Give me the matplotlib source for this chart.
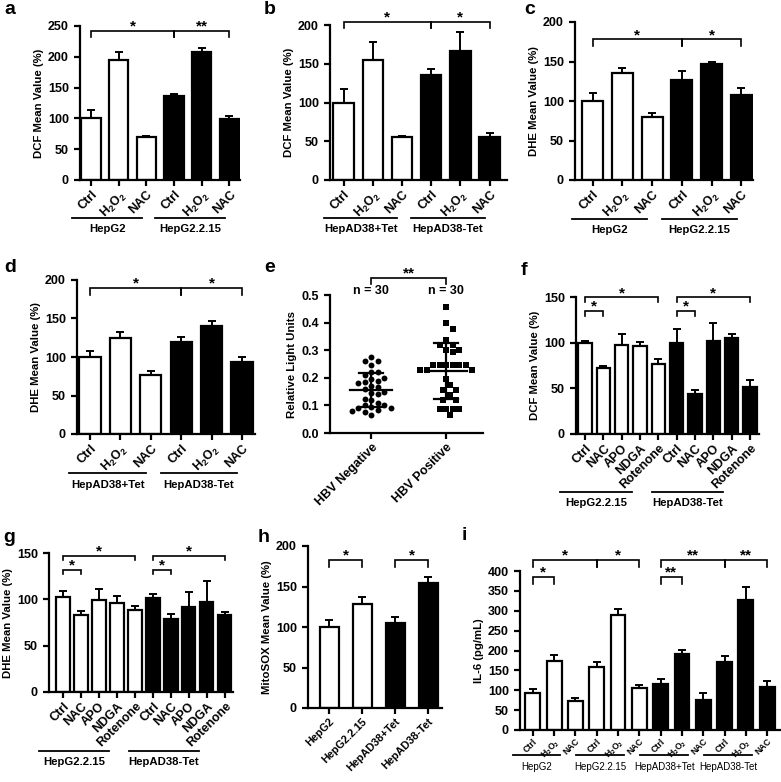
import matplotlib
matplotlib.use('Agg')
import matplotlib.pyplot as plt
import numpy as np

plt.rcParams.update({
    'font.family': ['Liberation Sans', 'DejaVu Sans'],
    'font.weight': 'bold',
    'axes.labelweight': 'bold',
    'mathtext.fontset': 'custom',
    'mathtext.rm': 'Liberation Sans:bold',
    'mathtext.bf': 'Liberation Sans:bold',
    'mathtext.it': 'Liberation Sans:bold',
    'mathtext.default': 'rm',
    'axes.linewidth': 1.6,
})

H2O2 = r'H$_2$O$_2$'

# ---------------- data ----------------
a_labels = ['Ctrl', H2O2, 'NAC', 'Ctrl', H2O2, 'NAC']
a_vals = [100, 195, 70, 137, 208, 99]
a_err = [14, 12, 1, 3, 7, 5]
a_groups = ['HepG2', 'HepG2.2.15']

b_labels = ['Ctrl', H2O2, 'NAC', 'Ctrl', H2O2, 'NAC']
b_vals = [100, 155, 55, 136, 166, 56]
b_err = [18, 23, 2, 7, 25, 5]
b_groups = ['HepAD38+Tet', 'HepAD38-Tet']

c_labels = ['Ctrl', H2O2, 'NAC', 'Ctrl', H2O2, 'NAC']
c_vals = [100, 136, 80, 127, 147, 108]
c_err = [10, 6, 5, 11, 3, 9]
c_groups = ['HepG2', 'HepG2.2.15']

d_labels = ['Ctrl', H2O2, 'NAC', 'Ctrl', H2O2, 'NAC']
d_vals = [100, 125, 77, 120, 140, 94]
d_err = [8, 7, 5, 6, 7, 6]
d_groups = ['HepAD38+Tet', 'HepAD38-Tet']

e_categories = ['HBV Negative', 'HBV Positive']
e_negative = [0.275, 0.26, 0.26, 0.245, 0.22, 0.22, 0.21, 0.20, 0.195, 0.19,
              0.185, 0.18, 0.17, 0.165, 0.16, 0.15, 0.145, 0.14, 0.125, 0.12,
              0.11, 0.10, 0.10, 0.095, 0.09, 0.09, 0.085, 0.08, 0.075, 0.065]
e_positive = [0.458, 0.397, 0.377, 0.337, 0.32, 0.318, 0.30, 0.30, 0.295,
              0.248, 0.248, 0.248, 0.248, 0.248, 0.248, 0.228, 0.228, 0.228,
              0.197, 0.175, 0.155, 0.155, 0.137, 0.12, 0.12,
              0.088, 0.088, 0.088, 0.088, 0.065]
e_n = ['n = 30', 'n = 30']

f_labels = ['Ctrl', 'NAC', 'APO', 'NDGA', 'Rotenone'] * 2
f_vals = [100, 72, 97, 96, 77, 100, 44, 102, 105, 52]
f_err = [2, 3, 12, 5, 5, 15, 4, 20, 4, 7]
f_groups = ['HepG2.2.15', 'HepAD38-Tet']

g_labels = ['Ctrl', 'NAC', 'APO', 'NDGA', 'Rotenone'] * 2
g_vals = [102, 83, 99, 96, 88, 101, 79, 92, 97, 83]
g_err = [7, 4, 12, 8, 5, 5, 5, 16, 23, 3]
g_groups = ['HepG2.2.15', 'HepAD38-Tet']

h_labels = ['HepG2', 'HepG2.2.15', 'HepAD38+Tet', 'HepAD38-Tet']
h_vals = [100, 129, 105, 154]
h_err = [9, 8, 7, 8]

i_labels = ['Ctrl', H2O2, 'NAC'] * 4
i_vals = [94, 173, 74, 158, 289, 106, 115, 192, 76, 171, 328, 107]
i_err = [8, 15, 7, 13, 16, 6, 13, 9, 17, 15, 33, 17]
i_groups = ['HepG2', 'HepG2.2.15', 'HepAD38+Tet', 'HepAD38-Tet']

# ---------------- layout helpers ----------------
W, H = 781, 782
fig = plt.figure(figsize=(W / 100, H / 100), dpi=100)

TICK_FS = 9
LABEL_FS = 8.2
STAR_FS = 11


def add_ax(x0, y0, x1, y1, yfs=TICK_FS):
    ax = fig.add_axes([x0 / W, 1 - y1 / H, (x1 - x0) / W, (y1 - y0) / H])
    ax.spines['top'].set_visible(False)
    ax.spines['right'].set_visible(False)
    ax.tick_params(direction='out', length=4, width=1.6, labelsize=yfs, pad=2)
    ax.tick_params(axis='y', pad=4)
    return ax, (y1 - y0)


def panel_letter(x, y, s):
    fig.text(x / W, 1 - y / H, s, fontsize=14, fontweight='bold', ha='left', va='center')


def bracket(ax, x1, x2, y, h, txt, fs=STAR_FS):
    ax.plot([x1, x1, x2, x2], [y - h, y, y, y - h], color='k', lw=1.2, clip_on=False,
            solid_joinstyle='miter')
    ax.text((x1 + x2) / 2, y, txt, ha='center', va='baseline', fontsize=fs,
            fontweight='bold', clip_on=False)


def group_lines(ax, hpx, groups, size, line_px, text_px, start_off, end_off, fs=LABEL_FS, fw='bold'):
    tr = ax.get_xaxis_transform()
    for gi, name in enumerate(groups):
        first = gi * size
        last = first + size - 1
        xs, xe = first + start_off, last + end_off
        ax.plot([xs, xe], [-line_px / hpx] * 2, color='k', lw=1.3, transform=tr, clip_on=False)
        ax.text((xs + xe) / 2, -text_px / hpx, name, transform=tr, ha='center', va='center',
                fontsize=fs, fontweight=fw)


def bar_panel(ax, labels, vals, errs, ylim, yticks, ylabel, xlim, width=0.7, xfs=TICK_FS, xpad=2):
    n = len(vals)
    x = np.arange(n)
    colors = ['white'] * (n // 2) + ['black'] * (n - n // 2)
    ax.errorbar(x, vals, yerr=[np.zeros(n), errs], fmt='none', ecolor='k',
                elinewidth=1.4, capsize=3.2, capthick=1.4, zorder=1)
    ax.bar(x, vals, width=width, color=colors, edgecolor='k', linewidth=1.6, zorder=2)
    ax.set_xlim(*xlim)
    ax.set_ylim(*ylim)
    ax.set_yticks(yticks)
    ax.set_xticks(x)
    ax.set_xticklabels(labels, rotation=45, ha='right', rotation_mode='anchor',
                       fontsize=xfs, fontweight='bold')
    ax.tick_params(axis='x', pad=xpad)
    ax.set_ylabel(ylabel, fontsize=LABEL_FS, fontweight='bold', labelpad=3)


# ---------------- panel a ----------------
ax, hp = add_ax(80, 26, 240, 180)
bar_panel(ax, a_labels, a_vals, a_err, (0, 250), range(0, 251, 50), 'DCF Mean Value (%)', (-0.4, 5.38))
bracket(ax, 0, 3, 242, 10, '*')
bracket(ax, 3, 5, 242, 10, '**')
group_lines(ax, hp, a_groups, 3, 38, 49, -0.68, -0.16)
panel_letter(4, 10, 'a')

# ---------------- panel b ----------------
ax, hp = add_ax(330, 25, 507, 180)
bar_panel(ax, b_labels, b_vals, b_err, (0, 200), range(0, 201, 50), 'DCF Mean Value (%)', (-0.47, 5.6))
bracket(ax, 0, 3, 204, 8, '*')
bracket(ax, 3, 5, 204, 8, '*')
group_lines(ax, hp, b_groups, 3, 38, 49, -0.68, -0.16)
panel_letter(264, 10, 'b')

# ---------------- panel c ----------------
ax, hp = add_ax(575, 22, 753, 180)
bar_panel(ax, c_labels, c_vals, c_err, (0, 200), range(0, 201, 50), 'DHE Mean Value (%)', (-0.59, 5.39))
bracket(ax, 0, 3, 178, 8, '*')
bracket(ax, 3, 5, 178, 8, '*')
group_lines(ax, hp, c_groups, 3, 39, 50, -0.68, -0.16)
panel_letter(524, 10, 'c')

# ---------------- panel d ----------------
ax, hp = add_ax(77, 280, 255, 434)
bar_panel(ax, d_labels, d_vals, d_err, (0, 200), range(0, 201, 50), 'DHE Mean Value (%)', (-0.43, 5.43))
bracket(ax, 0, 3, 190, 10, '*')
bracket(ax, 3, 5, 190, 10, '*')
group_lines(ax, hp, d_groups, 3, 39, 51, -0.68, -0.16)
panel_letter(4, 267, 'd')

# ---------------- panel e ----------------
ax, hp = add_ax(330, 295, 483, 433)
xlim_e = (-0.55, 1.49)
ylim_e = (0, 0.5)
ax.set_xlim(*xlim_e)
ax.set_ylim(*ylim_e)
sx = (483 - 330) / (xlim_e[1] - xlim_e[0])
sy = (433 - 295) / (ylim_e[1] - ylim_e[0])


def swarm(vals, diam):
    vals = np.asarray(vals)
    placed = []
    off = np.zeros(len(vals))
    for i in np.argsort(vals)[::-1]:
        yp = vals[i] * sy
        for k in range(60):
            cands = [0.0] if k == 0 else [k * diam * 0.5, -k * diam * 0.5]
            done = False
            for xp in cands:
                if all((xp - px) ** 2 + (yp - py) ** 2 >= diam ** 2 for px, py in placed):
                    placed.append((xp, yp))
                    off[i] = xp / sx
                    done = True
                    break
            if done:
                break
    return off


for ci, (vals, mk) in enumerate([(e_negative, 'o'), (e_positive, 's')]):
    off = swarm(vals, 6.5)
    ax.scatter(ci + off, vals, marker=mk, s=18, color='black', zorder=2, linewidths=0)
    m = np.mean(vals)
    sd = np.std(vals, ddof=1)
    ax.plot([ci - 0.28, ci + 0.28], [m, m], color='k', lw=1.6, zorder=3)
    ax.plot([ci - 0.16, ci + 0.16], [m + sd, m + sd], color='k', lw=1.6, zorder=3)
    ax.plot([ci - 0.16, ci + 0.16], [m - sd, m - sd], color='k', lw=1.6, zorder=3)
    ax.plot([ci, ci], [m - sd, m + sd], color='k', lw=1.6, zorder=3)
    ax.text(ci, 0.515, e_n[ci], ha='center', va='center', fontsize=9, fontweight='bold',
            clip_on=False)
ax.set_yticks(np.arange(0, 0.51, 0.1))
ax.set_yticklabels([f'{v:.1f}' for v in np.arange(0, 0.51, 0.1)])
ax.set_xticks([0, 1])
ax.set_xticklabels(e_categories, rotation=45, ha='right', rotation_mode='anchor',
                   fontsize=TICK_FS, fontweight='bold')
ax.set_ylabel('Relative Light Units', fontsize=LABEL_FS, fontweight='bold', labelpad=3)
bracket(ax, 0, 1, 0.563, 0.024, '**')
panel_letter(264, 268, 'e')

# ---------------- panel f ----------------
ax, hp = add_ax(576, 297, 759, 434)
bar_panel(ax, f_labels, f_vals, f_err, (0, 150), range(0, 151, 50), 'DCF Mean Value (%)', (-0.5, 9.5), width=0.73)
bracket(ax, 0, 4, 150, 6, '*')
bracket(ax, 0, 1, 135, 6, '*')
bracket(ax, 5, 9, 150, 6, '*')
bracket(ax, 5, 6, 135, 6, '*')
group_lines(ax, hp, f_groups, 5, 58, 69, -1.35, -1.45)
panel_letter(521, 270, 'f')

# ---------------- panel g ----------------
ax, hp = add_ax(49, 553, 233, 692)
bar_panel(ax, g_labels, g_vals, g_err, (0, 150), range(0, 151, 50), 'DHE Mean Value (%)', (-0.78, 9.45), width=0.73)
bracket(ax, 0, 4, 147, 5, '*')
bracket(ax, 0, 1, 132, 5, '*')
bracket(ax, 5, 9, 147, 5, '*')
bracket(ax, 5, 6, 132, 5, '*')
group_lines(ax, hp, g_groups, 5, 59, 70, -1.35, -1.45)
panel_letter(3, 537, 'g')

# ---------------- panel h ----------------
ax, hp = add_ax(308, 546, 442, 708)
bar_panel(ax, h_labels, h_vals, h_err, (0, 200), range(0, 201, 50), 'MitoSOX Mean Value (%)', (-0.64, 3.42), width=0.57, xfs=7.8)
bracket(ax, 0, 1, 183, 9, '*')
bracket(ax, 2, 3, 183, 9, '*')
panel_letter(258, 537, 'h')

# ---------------- panel i ----------------
ax, hp = add_ax(520, 571, 780, 730)
bar_panel(ax, i_labels, i_vals, i_err, (0, 400), range(0, 401, 50), 'IL-6 (pg/mL)', (-0.6, 11.6), width=0.7, xfs=6.3, xpad=1)
bracket(ax, 0, 3, 428, 18, '*')
bracket(ax, 3, 5, 428, 18, '*')
bracket(ax, 6, 9, 428, 18, '**')
bracket(ax, 9, 11, 428, 18, '**')
bracket(ax, 0, 1, 385, 17, '*')
bracket(ax, 6, 7, 385, 17, '**')
group_lines(ax, hp, i_groups, 3, 25, 37, -0.95, -0.72, fs=7, fw='normal')
panel_letter(462, 535, 'i')

fig.savefig('out.png', dpi=100)
